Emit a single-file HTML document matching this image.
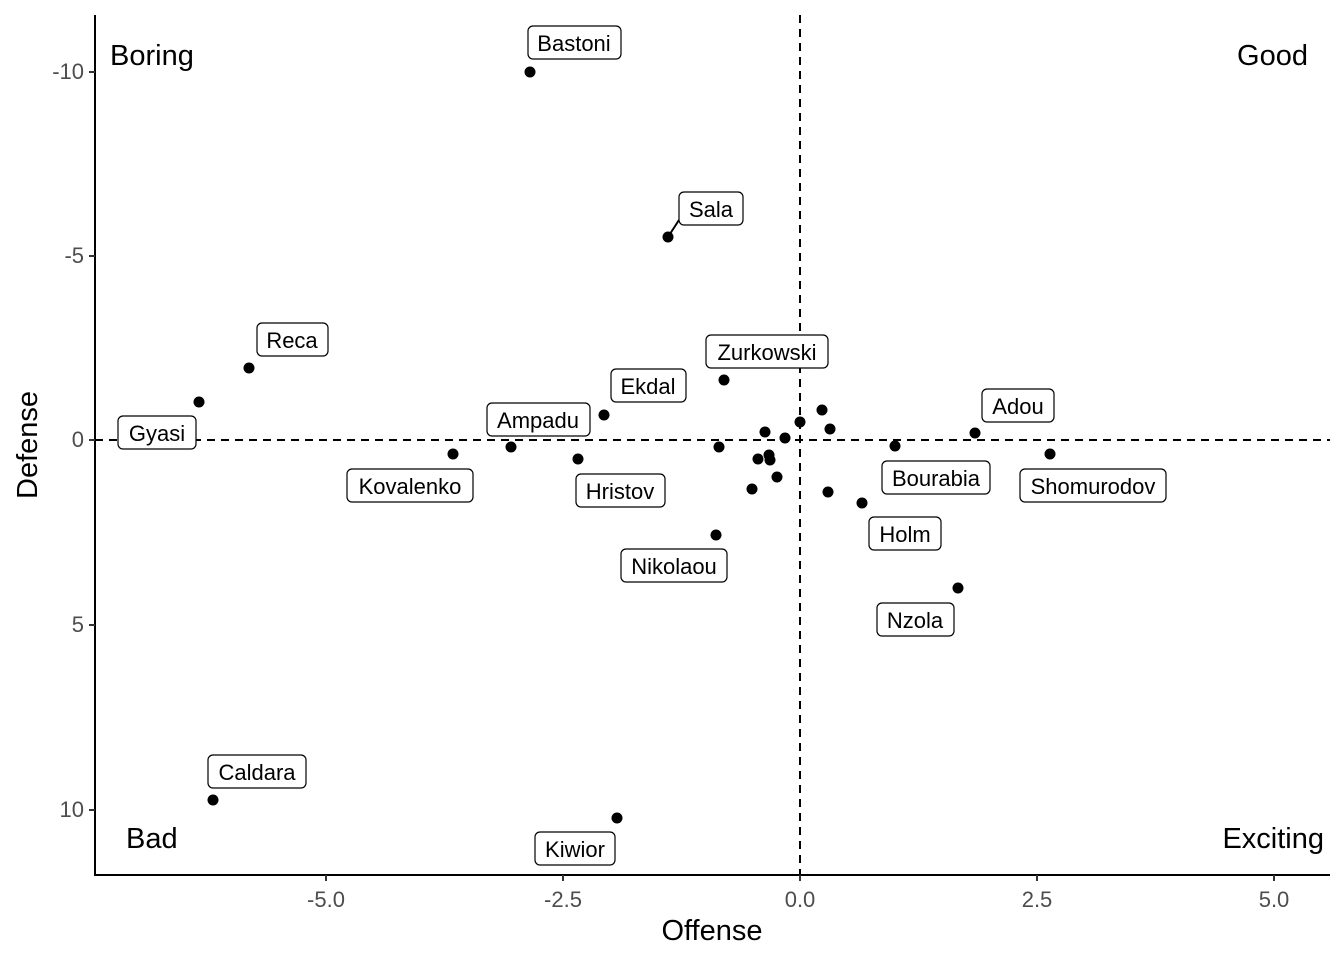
<!DOCTYPE html>
<html><head><meta charset="utf-8"><style>html,body{margin:0;padding:0;background:#fff}svg{display:block}</style></head>
<body>
<svg width="1344" height="960" xmlns="http://www.w3.org/2000/svg" font-family="Liberation Sans, sans-serif">
<rect width="1344" height="960" fill="#fff"/>
<line x1="800" y1="15" x2="800" y2="875" stroke="#000" stroke-width="2" stroke-dasharray="8,6"/>
<line x1="95" y1="440" x2="1330" y2="440" stroke="#000" stroke-width="2" stroke-dasharray="8,6"/>
<line x1="95" y1="15" x2="95" y2="876" stroke="#000" stroke-width="2"/>
<line x1="94" y1="875" x2="1330" y2="875" stroke="#000" stroke-width="2"/>
<g stroke="#333" stroke-width="2">
<line x1="326" y1="875" x2="326" y2="881"/><line x1="563" y1="875" x2="563" y2="881"/><line x1="800" y1="875" x2="800" y2="881"/><line x1="1037" y1="875" x2="1037" y2="881"/><line x1="1274" y1="875" x2="1274" y2="881"/>
<line x1="89" y1="72" x2="95" y2="72"/><line x1="89" y1="256" x2="95" y2="256"/><line x1="89" y1="440" x2="95" y2="440"/><line x1="89" y1="625" x2="95" y2="625"/><line x1="89" y1="810" x2="95" y2="810"/>
</g>
<g fill="#4d4d4d" font-size="22" text-anchor="middle">
<text x="326" y="907">-5.0</text><text x="563" y="907">-2.5</text><text x="800" y="907">0.0</text><text x="1037" y="907">2.5</text><text x="1274" y="907">5.0</text>
</g>
<g fill="#4d4d4d" font-size="22" text-anchor="end">
<text x="84" y="79">-10</text><text x="84" y="263">-5</text><text x="84" y="447">0</text><text x="84" y="632">5</text><text x="84" y="817">10</text>
</g>
<text x="712" y="940" font-size="29" text-anchor="middle">Offense</text>
<text transform="translate(37,445) rotate(-90)" font-size="29" text-anchor="middle">Defense</text>
<g font-size="29">
<text x="110" y="65">Boring</text><text x="1308" y="65" text-anchor="end">Good</text>
<text x="126" y="848">Bad</text><text x="1324" y="848" text-anchor="end">Exciting</text>
</g>
<line x1="668" y1="237" x2="679" y2="220" stroke="#000" stroke-width="2"/>
<g fill="#000">
<circle cx="530" cy="72" r="5.5"/><circle cx="668" cy="237" r="5.5"/><circle cx="249" cy="368" r="5.5"/><circle cx="199" cy="402" r="5.5"/>
<circle cx="453" cy="454" r="5.5"/><circle cx="511" cy="447" r="5.5"/><circle cx="578" cy="459" r="5.5"/><circle cx="604" cy="415" r="5.5"/>
<circle cx="724" cy="380" r="5.5"/><circle cx="719" cy="447" r="5.5"/><circle cx="716" cy="535" r="5.5"/><circle cx="617" cy="818" r="5.5"/>
<circle cx="213" cy="800" r="5.5"/><circle cx="765" cy="432" r="5.5"/><circle cx="758" cy="459" r="5.5"/><circle cx="769" cy="455" r="5.5"/>
<circle cx="770" cy="460" r="5.5"/><circle cx="752" cy="489" r="5.5"/><circle cx="777" cy="477" r="5.5"/><circle cx="785" cy="438" r="5.5"/>
<circle cx="800" cy="422" r="5.5"/><circle cx="822" cy="410" r="5.5"/><circle cx="830" cy="429" r="5.5"/><circle cx="828" cy="492" r="5.5"/>
<circle cx="862" cy="503" r="5.5"/><circle cx="895" cy="446" r="5.5"/><circle cx="975" cy="433" r="5.5"/><circle cx="1050" cy="454" r="5.5"/>
<circle cx="958" cy="588" r="5.5"/>
</g>
<g fill="#fff" stroke="#000" stroke-width="1.2">
<rect x="528" y="26" width="93" height="33" rx="5"/><rect x="679" y="192" width="64" height="33" rx="5"/>
<rect x="257" y="323" width="71" height="33" rx="5"/><rect x="118" y="416" width="78" height="33" rx="5"/>
<rect x="347" y="469" width="126" height="33" rx="5"/><rect x="487" y="403" width="103" height="33" rx="5"/>
<rect x="576" y="474" width="89" height="33" rx="5"/><rect x="611" y="369" width="75" height="33" rx="5"/>
<rect x="706" y="335" width="122" height="33" rx="5"/><rect x="621" y="549" width="106" height="33" rx="5"/>
<rect x="535" y="832" width="80" height="33" rx="5"/><rect x="208" y="755" width="98" height="33" rx="5"/>
<rect x="882" y="461" width="108" height="33" rx="5"/><rect x="982" y="389" width="72" height="33" rx="5"/>
<rect x="1020" y="469" width="146" height="33" rx="5"/><rect x="869" y="517" width="72" height="33" rx="5"/>
<rect x="877" y="603" width="77" height="33" rx="5"/>
</g>
<g font-size="22" text-anchor="middle" fill="#000">
<text x="574" y="51">Bastoni</text><text x="711" y="217">Sala</text><text x="292" y="348">Reca</text><text x="157" y="441">Gyasi</text>
<text x="410" y="494">Kovalenko</text><text x="538" y="428">Ampadu</text><text x="620" y="499">Hristov</text><text x="648" y="394">Ekdal</text>
<text x="767" y="360">Zurkowski</text><text x="674" y="574">Nikolaou</text><text x="575" y="857">Kiwior</text><text x="257" y="780">Caldara</text>
<text x="936" y="486">Bourabia</text><text x="1018" y="414">Adou</text><text x="1093" y="494">Shomurodov</text><text x="905" y="542">Holm</text>
<text x="915" y="628">Nzola</text>
</g>
</svg>
</body></html>
